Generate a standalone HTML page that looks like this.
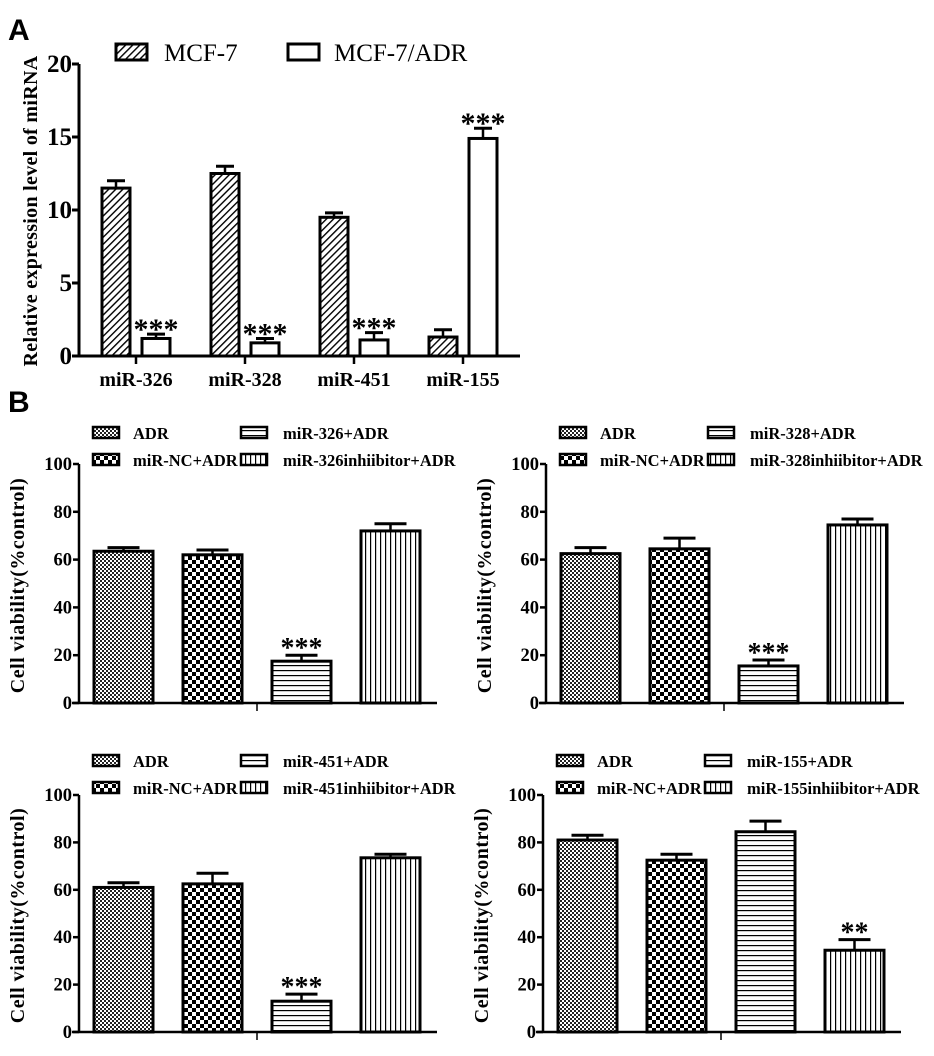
<!DOCTYPE html>
<html><head><meta charset="utf-8">
<style>
html,body{margin:0;padding:0;background:#fff;}
svg text{font-family:"Liberation Serif",serif;fill:#000;}
</style></head>
<body>
<svg id="fig" width="934" height="1051" viewBox="0 0 934 1051" xmlns="http://www.w3.org/2000/svg">
<defs>
<pattern id="diag" patternUnits="userSpaceOnUse" width="5" height="5" patternTransform="rotate(45)"><rect width="5" height="5" fill="#fff"/><rect width="1.4" height="5" fill="#000"/></pattern>
<pattern id="fine" patternUnits="userSpaceOnUse" width="4" height="4"><rect width="4" height="4" fill="#fff"/><rect width="2" height="2" fill="#222"/><rect x="2" y="2" width="2" height="2" fill="#222"/></pattern>
<pattern id="check" patternUnits="userSpaceOnUse" width="8" height="8"><rect width="8" height="8" fill="#fff"/><rect width="4" height="4" fill="#000"/><rect x="4" y="4" width="4" height="4" fill="#000"/></pattern>
<pattern id="hor" patternUnits="userSpaceOnUse" width="5" height="5"><rect width="5" height="5" fill="#fff"/><rect width="5" height="1.2" fill="#000"/></pattern>
<pattern id="ver" patternUnits="userSpaceOnUse" width="5" height="5"><rect width="5" height="5" fill="#fff"/><rect width="1.2" height="5" fill="#000"/></pattern>
</defs>
<text x="8" y="40" style="font-family:'Liberation Sans',sans-serif;font-size:30px;font-weight:bold">A</text>
<text x="8" y="412" style="font-family:'Liberation Sans',sans-serif;font-size:30px;font-weight:bold">B</text>
<g id="gA"></g>
<g id="gB"></g>
</svg>
<script>
// Panel A data
const aCategories = ["miR-326","miR-328","miR-451","miR-155"];
const aMCF7 = [11.5, 12.5, 9.5, 1.3];
const aMCF7Err = [0.5, 0.5, 0.3, 0.5];
const aADR = [1.2, 0.9, 1.1, 14.9];
const aADRErr = [0.3, 0.3, 0.5, 0.7];
const aTicks = [0,5,10,15,20];
const aStars = ["***","***","***","***"];

// Panel B data
const bGroups = ["ADR","miR-NC+ADR","miR-X+ADR","miR-Xinhibitor+ADR"];
const bMirs = ["miR-326","miR-328","miR-451","miR-155"];
const bValues = [[63.5,62,17.5,72],[62.5,64.5,15.5,74.5],[61,62.5,13,73.5],[81,72.5,84.5,34.5]];
const bErrors = [[1.5,2,2.5,3],[2.5,4.5,2.5,2.5],[2,4.5,3,1.5],[2,2.5,4.5,4.5]];
const bStars = [["","","***",""],["","","***",""],["","","***",""],["","","","**"]];
const bTicks = [0,20,40,60,80,100];

const NS="http://www.w3.org/2000/svg";
function mk(parent,tag,attrs,txt){const e=document.createElementNS(NS,tag);for(const k in attrs)e.setAttribute(k,attrs[k]);if(txt!==undefined)e.textContent=txt;parent.appendChild(e);return e;}
const B='font-weight:bold;', N='font-weight:normal;';

// ---- Panel A ----
const gA=document.getElementById('gA');
const aX0=79, aY0=356, aYTop=64, aMax=20;
const ay=v=>aY0-(v/aMax)*(aY0-aYTop);
let el;
el=mk(gA,'line',{x1:aX0,y1:aYTop,x2:aX0,y2:aY0+1,stroke:'#000','stroke-width':3});


el=mk(gA,'line',{x1:72,y1:aY0,x2:520,y2:aY0,stroke:'#000','stroke-width':3});


aTicks.forEach(t=>{
  mk(gA,'line',{x1:aX0-7,y1:ay(t),x2:aX0,y2:ay(t),stroke:'#000','stroke-width':3});
  el=mk(gA,'text',{x:aX0-7,y:ay(t)+8,'text-anchor':'end',style:B+'font-size:25px'},String(t));
  
  
});
el=mk(gA,'text',{transform:'translate(37,211) rotate(-90)','text-anchor':'middle',style:B+'font-size:20px;letter-spacing:0.3px'},'Relative expression level of miRNA');


aCategories.forEach((c,i)=>{
  const cx=136+i*109;
  mk(gA,'line',{x1:cx,y1:aY0,x2:cx,y2:aY0+8,stroke:'#000','stroke-width':2.5});
  el=mk(gA,'text',{x:cx,y:386,'text-anchor':'middle',style:B+'font-size:20px'},c);
  
  
  [[aMCF7,aMCF7Err,'url(#diag)',cx-34],[aADR,aADRErr,'#fff',cx+6]].forEach((s,j)=>{
    const v=s[0][i], e=s[1][i], x=s[3], w=28;
    mk(gA,'line',{x1:x+w/2,y1:ay(v),x2:x+w/2,y2:ay(v+e),stroke:'#000','stroke-width':2.5});
    mk(gA,'line',{x1:x+w/2-9,y1:ay(v+e),x2:x+w/2+9,y2:ay(v+e),stroke:'#000','stroke-width':3});
    el=mk(gA,'rect',{x:x,y:ay(v),width:w,height:aY0-ay(v),fill:s[2],stroke:'#000','stroke-width':3});
    
    
  });
  el=mk(gA,'text',{x:cx+20,y:ay(aADR[i]+aADRErr[i])+5,'text-anchor':'middle',style:B+'font-size:30px'},aStars[i]);
  
  
});
el=mk(gA,'rect',{x:116,y:44,width:31,height:16,fill:'url(#diag)',stroke:'#000','stroke-width':3});


el=mk(gA,'text',{x:164,y:61,style:N+'font-size:25px'},'MCF-7');


el=mk(gA,'rect',{x:288,y:44,width:31,height:16,fill:'#fff',stroke:'#000','stroke-width':3});


el=mk(gA,'text',{x:334,y:61,style:N+'font-size:25px'},'MCF-7/ADR');



// ---- Panel B ----
const gB=document.getElementById('gB');
const fills=['url(#fine)','url(#check)','url(#hor)','url(#ver)'];
const panels=[{x:79,y0:703,yt:464,ly:433},{x:546,y0:703,yt:464,ly:433},{x:79,y0:1032,yt:795,ly:761},{x:543,y0:1032,yt:795,ly:761}];
panels.forEach((p,pi)=>{
  const g=mk(gB,'g',{});
  
  
  const by=v=>p.y0-(v/100)*(p.y0-p.yt);
  mk(g,'line',{x1:p.x,y1:p.yt,x2:p.x,y2:p.y0+1,stroke:'#000','stroke-width':2.5});
  mk(g,'line',{x1:p.x-7,y1:p.y0,x2:p.x+358,y2:p.y0,stroke:'#000','stroke-width':2.5});
  mk(g,'line',{x1:p.x+178,y1:p.y0,x2:p.x+178,y2:p.y0+8,stroke:'#000','stroke-width':1.5});
  bTicks.forEach(t=>{
    mk(g,'line',{x1:p.x-6,y1:by(t),x2:p.x,y2:by(t),stroke:'#000','stroke-width':2.5});
    el=mk(g,'text',{x:p.x-7,y:by(t)+6,'text-anchor':'end',style:B+'font-size:18.5px'},String(t));
    
    
  });
  el=mk(g,'text',{transform:`translate(${p.x-55},${(p.y0+p.yt)/2+2}) rotate(-90)`,'text-anchor':'middle',style:B+'font-size:20px;letter-spacing:0.5px'},'Cell viability(%control)');
  
  
  bValues[pi].forEach((v,i)=>{
    const x=p.x+15+i*89, w=59, e=bErrors[pi][i];
    mk(g,'line',{x1:x+w/2,y1:by(v),x2:x+w/2,y2:by(v+e),stroke:'#000','stroke-width':2.5});
    mk(g,'line',{x1:x+w/2-16,y1:by(v+e),x2:x+w/2+16,y2:by(v+e),stroke:'#000','stroke-width':3});
    el=mk(g,'rect',{x:x,y:by(v),width:w,height:p.y0-by(v),fill:fills[i],stroke:'#000','stroke-width':3});
    
    
    if(bStars[pi][i]){
      el=mk(g,'text',{x:x+w/2,y:by(v+e)+2,'text-anchor':'middle',style:B+'font-size:28px'},bStars[pi][i]);
      
      
    }
  });
  const labels=['ADR','miR-NC+ADR',bMirs[pi]+'+ADR',bMirs[pi]+'inhiibitor+ADR'];
  labels.forEach((l,i)=>{
    const col=i<2?0:1, row=i%2===0?0:1;
    const lx=p.x+(col?162:14), ly=p.ly+row*27;
    el=mk(g,'rect',{x:lx,y:ly-6,width:26,height:11,fill:fills[i],stroke:'#000','stroke-width':2.5});
    
    
    el=mk(g,'text',{x:lx+(col?42:40),y:ly+6,style:B+'font-size:16.5px'},l);
    
    
  });
});
</script>
</body></html>
